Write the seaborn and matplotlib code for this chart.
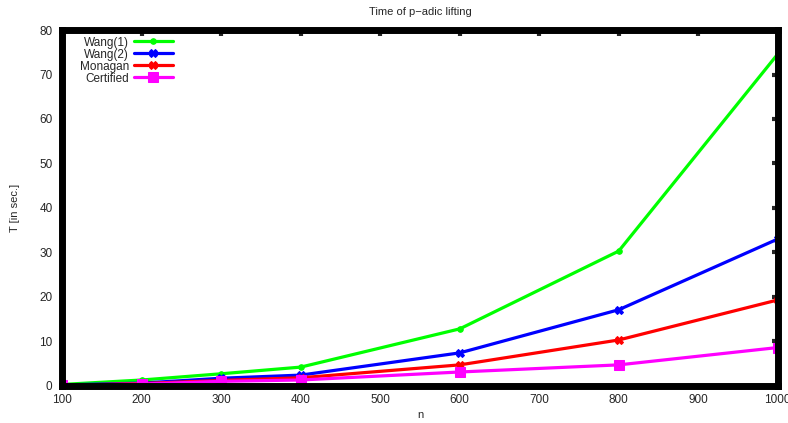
import pandas as pd
import matplotlib
matplotlib.use("Agg")
import matplotlib.pyplot as plt
import seaborn as sns

# values
n = [100, 200, 300, 400, 600, 800, 1000]
wang1 = [0.3, 1.3, 2.7, 4.2, 12.8, 30.3, 74.6]
wang2 = [0.2, 0.6, 1.7, 2.4, 7.4, 17.1, 33.0]
monagan = [0.1, 0.5, 1.2, 1.8, 4.7, 10.3, 19.3]
certified = [0.1, 0.4, 1.0, 1.3, 3.1, 4.7, 8.6]

labels = ["Wang(1)", "Wang(2)", "Monagan", "Certified"]
colors = ["#00ff00", "#0000ff", "#ff0000", "#ff00ff"]
markers = ["o", "X", "X", "s"]
msizes = [4, 6, 6, 7]

df = pd.DataFrame({"n": n, "Wang(1)": wang1, "Wang(2)": wang2,
                   "Monagan": monagan, "Certified": certified})
long = df.melt(id_vars="n", var_name="method", value_name="T")

sns.set_style("white")
plt.rcParams["font.family"] = ["Liberation Sans", "DejaVu Sans"]

fig, ax = plt.subplots(figsize=(7.88, 4.23), dpi=100)
fig.subplots_adjust(left=0.079, right=0.987, top=0.929, bottom=0.088)

for lab, col, mk, ms in zip(labels, colors, markers, msizes):
    sub = long[long["method"] == lab]
    sns.lineplot(data=sub, x="n", y="T", ax=ax, color=col, marker=mk,
                 markersize=ms, markeredgecolor=col, linewidth=2.3,
                 label=lab)

ax.set_xlim(100, 1000)
ax.set_ylim(0, 80)
ax.set_xticks(range(100, 1001, 100))
ax.set_yticks(range(0, 81, 10))
ax.tick_params(direction="in", length=4, width=3, labelsize=8.5,
               top=True, right=True)
ax.tick_params(axis="x", pad=6)
ax.tick_params(axis="y", pad=7)
for sp in ax.spines.values():
    sp.set_linewidth(5)
    sp.set_color("black")

ax.set_title("Time of p\u2212adic lifting", fontsize=8, pad=11)
ax.set_xlabel("n", fontsize=8, labelpad=3)
ax.set_ylabel("T [in sec.]", fontsize=8, labelpad=14)

leg = ax.legend(loc="upper left", markerfirst=False, frameon=False,
                fontsize=8.5, handlelength=3.3, handletextpad=0.4,
                labelspacing=0.0, borderaxespad=0.0,
                bbox_to_anchor=(0.018, 0.995))
for t in leg.get_texts():
    t.set_ha("right")
leg._legend_box.align = "right"

fig.savefig("out.png", dpi=100)
